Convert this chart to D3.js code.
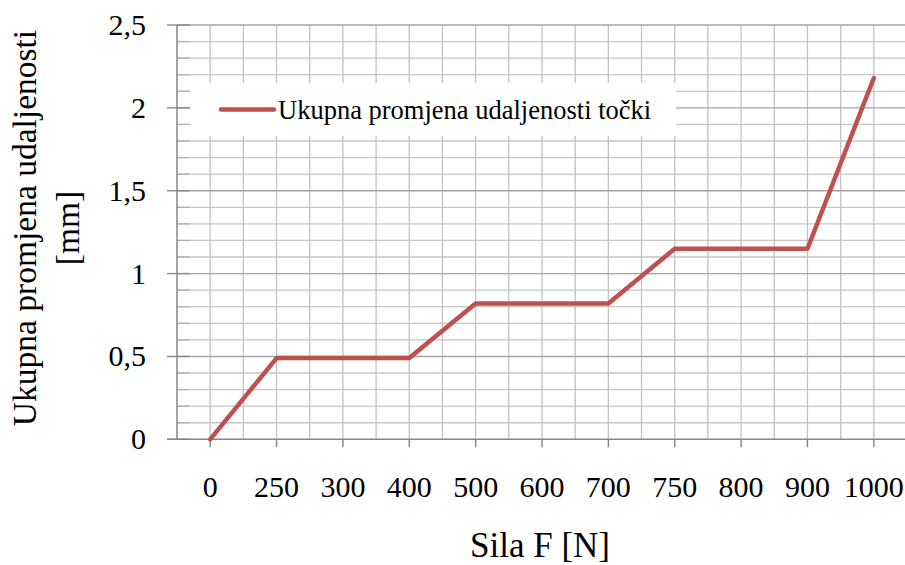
<!DOCTYPE html>
<html>
<head>
<meta charset="utf-8">
<script src="https://cdn.jsdelivr.net/npm/d3@7"></script>
<style>
  html, body { margin: 0; padding: 0; background: #fff; overflow: hidden; }
</style>
</head>
<body>
<svg id="chart" width="905" height="565"></svg>
<script>
const categories = ["0", "250", "300", "400", "500", "600", "700", "750", "800", "900", "1000"];
const values = [0, 0.49, 0.49, 0.49, 0.82, 0.82, 0.82, 1.15, 1.15, 1.15, 2.18];
const yTicks = [0, 0.5, 1, 1.5, 2, 2.5];
const yTickLabels = ["0", "0,5", "1", "1,5", "2", "2,5"];
const seriesName = "Ukupna promjena udaljenosti točki";
const xTitle = "Sila F [N]";
const yTitleLines = ["Ukupna promjena udaljenosti", "[mm]"];

const FONT = "'Liberation Serif'";
const svg = d3.select("#chart");
const L = 177, R = 907, T = 25, B = 439.3;

const x = d3.scaleBand().domain(categories).range([L, R]).padding(0);
const y = d3.scaleLinear().domain([0, 2.5]).range([B, T]);

const g = svg.append("g");

// minor horizontal grid (0.1 step)
const minor = d3.range(1, 25).map(i => i / 10).filter(v => Math.abs(v * 2 - Math.round(v * 2)) > 1e-6);
g.selectAll(".hmin").data(minor).join("line")
  .attr("x1", L).attr("x2", R)
  .attr("y1", d => y(d)).attr("y2", d => y(d))
  .attr("stroke", "#c6c6c6").attr("stroke-width", 1.3);

// vertical grid: at category centres and boundaries
const vpos = [];
categories.forEach((c, i) => {
  vpos.push(x(c) + x.bandwidth() / 2);
  if (i > 0) vpos.push(x(c));
});
vpos.push(R);
g.selectAll(".vg").data(vpos).join("line")
  .attr("x1", d => d).attr("x2", d => d)
  .attr("y1", T).attr("y2", B)
  .attr("stroke", "#c2c2c2").attr("stroke-width", 1.3);

// major horizontal grid
g.selectAll(".hmaj").data(yTicks.filter(v => v > 0)).join("line")
  .attr("x1", L).attr("x2", R)
  .attr("y1", d => y(d)).attr("y2", d => y(d))
  .attr("stroke", "#a3a3a3").attr("stroke-width", 1.4);

// legend box (covers grid)
g.append("rect").attr("x", 190).attr("y", 83).attr("width", 486).attr("height", 53).attr("fill", "#fff");

// minor y ticks (inside)
g.selectAll(".ymt").data(minor).join("line")
  .attr("x1", L).attr("x2", L + 13)
  .attr("y1", d => y(d)).attr("y2", d => y(d))
  .attr("stroke", "#b0b0b0").attr("stroke-width", 1.3);
// major y ticks (cross)
g.selectAll(".yMt").data(yTicks).join("line")
  .attr("x1", L - 10).attr("x2", L + 13)
  .attr("y1", d => y(d)).attr("y2", d => y(d))
  .attr("stroke", "#8a8a8a").attr("stroke-width", 1.4);

// axes lines
g.append("line").attr("x1", L).attr("x2", L).attr("y1", T).attr("y2", B)
  .attr("stroke", "#868686").attr("stroke-width", 1.5);
g.append("line").attr("x1", L - 10).attr("x2", R).attr("y1", B).attr("y2", B)
  .attr("stroke", "#868686").attr("stroke-width", 1.5);

// x ticks at category centres
g.selectAll(".xt").data(categories).join("line")
  .attr("x1", d => x(d) + x.bandwidth() / 2).attr("x2", d => x(d) + x.bandwidth() / 2)
  .attr("y1", B).attr("y2", B + 8)
  .attr("stroke", "#868686").attr("stroke-width", 1.4);

// y tick labels
g.selectAll(".ytl").data(yTicks).join("text")
  .attr("x", 146).attr("y", d => y(d) + 10)
  .attr("text-anchor", "end").attr("font-size", 30).attr("fill", "#000")
  .style("font-family", FONT)
  .text((d, i) => yTickLabels[i]);

// x tick labels
g.selectAll(".xtl").data(categories).join("text")
  .attr("x", d => x(d) + x.bandwidth() / 2).attr("y", 497)
  .attr("text-anchor", "middle").attr("font-size", 30).attr("fill", "#000")
  .style("font-family", FONT)
  .text(d => d);

// data line
const line = d3.line().x((d, i) => x(categories[i]) + x.bandwidth() / 2).y(d => y(d));
g.append("path").datum(values)
  .attr("d", line).attr("fill", "none")
  .attr("stroke", "#c0504d").attr("stroke-width", 4.5)
  .attr("stroke-linejoin", "round").attr("stroke-linecap", "round");

// legend
g.append("line").attr("x1", 221).attr("x2", 274).attr("y1", 109.5).attr("y2", 109.5)
  .attr("stroke", "#c0504d").attr("stroke-width", 4.5).attr("stroke-linecap", "round");
g.append("text").attr("x", 278).attr("y", 119).attr("font-size", 26.5).attr("fill", "#000")
  .style("font-family", FONT)
  .text(seriesName);

// axis titles
g.append("text").attr("x", 540).attr("y", 557).attr("text-anchor", "middle")
  .attr("font-size", 35).attr("fill", "#000")
  .style("font-family", FONT).text(xTitle);

const yt = g.append("text").attr("transform", "translate(0,228) rotate(-90)")
  .attr("text-anchor", "middle").attr("font-size", 33.5).attr("fill", "#000")
  .style("font-family", FONT);
yt.append("tspan").attr("x", 0).attr("y", 36).text(yTitleLines[0]);
yt.append("tspan").attr("x", 0).attr("y", 79).text(yTitleLines[1]);
</script>
</body>
</html>
